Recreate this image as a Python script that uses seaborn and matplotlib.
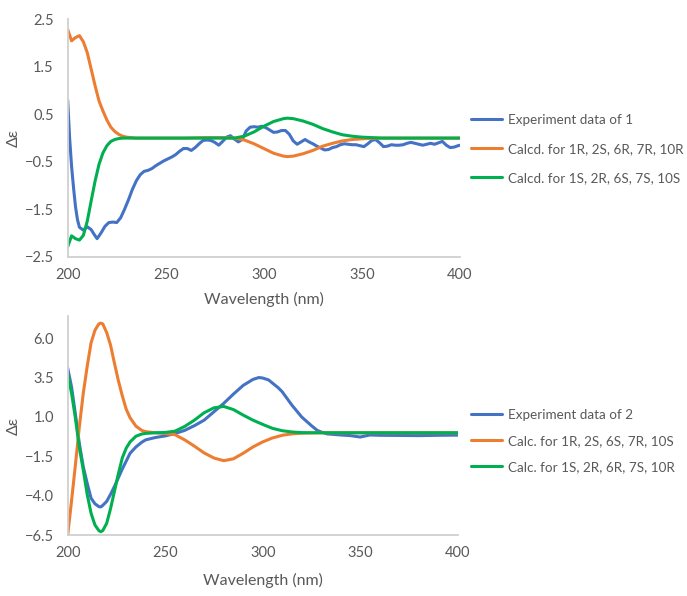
import seaborn as sns
import matplotlib.pyplot as plt
import pandas as pd

# ---- panel 1 data ----
exp1_wl = [200, 201, 202, 203, 204, 205, 206, 208, 210, 212, 213.5, 215, 217, 219, 221, 223, 225, 227,
           229, 231, 233, 235, 237, 239, 241, 243, 245, 247, 249, 251, 253, 255, 257, 259, 261, 263,
           265, 267, 269, 271, 273, 275, 277, 279, 281, 283, 285, 287, 289, 291, 293, 295, 297, 299,
           301, 303, 305, 307, 309, 311, 313, 315, 317, 319, 321, 323, 325, 327, 329, 331, 333, 335,
           337, 339, 341, 343, 345, 347, 349, 351, 353, 355, 357, 359, 361, 363, 365, 367, 369, 371,
           373, 375, 377, 379, 381, 383, 385, 387, 389, 391, 393, 395, 397, 399, 400]
exp1_de = [0.8, 0.0, -0.6, -1.05, -1.45, -1.72, -1.88, -1.94, -1.87, -1.93, -2.03, -2.12, -2.0, -1.86,
           -1.78, -1.77, -1.78, -1.68, -1.5, -1.3, -1.08, -0.9, -0.77, -0.7, -0.68, -0.64, -0.58, -0.53,
           -0.48, -0.44, -0.4, -0.35, -0.28, -0.22, -0.22, -0.26, -0.2, -0.12, -0.05, -0.04, -0.05,
           -0.09, -0.15, -0.07, 0.02, 0.05, -0.02, -0.08, -0.03, 0.15, 0.23, 0.24, 0.23, 0.25, 0.22,
           0.17, 0.12, 0.13, 0.16, 0.16, 0.08, -0.06, -0.13, -0.08, -0.03, -0.08, -0.12, -0.17, -0.21,
           -0.25, -0.24, -0.2, -0.18, -0.14, -0.12, -0.13, -0.14, -0.14, -0.16, -0.18, -0.12, -0.05,
           -0.03, -0.1, -0.18, -0.17, -0.14, -0.15, -0.15, -0.14, -0.11, -0.09, -0.11, -0.13, -0.15,
           -0.13, -0.11, -0.13, -0.1, -0.07, -0.15, -0.2, -0.19, -0.16, -0.15]

calc1_wl = [200, 202, 204, 206, 208, 210, 212, 214, 216, 218, 220, 222, 224, 226, 228, 230, 235, 240,
            250, 260, 270, 280, 285, 290, 295, 300, 305, 310, 312, 315, 320, 325, 330, 335, 340, 345,
            350, 355, 360, 370, 380, 390, 400]
calc1_a = [2.29, 2.05, 2.12, 2.16, 2.03, 1.8, 1.45, 1.1, 0.78, 0.57, 0.38, 0.23, 0.14, 0.08, 0.04, 0.02,
           0.0, 0.0, 0.0, 0.0, 0.01, 0.01, 0.0, -0.04, -0.12, -0.22, -0.32, -0.38, -0.39, -0.38, -0.33,
           -0.26, -0.17, -0.11, -0.06, -0.03, -0.015, -0.005, 0.0, 0.0, 0.0, 0.0, 0.0]
calc1_b = [-2.29, -2.06, -2.12, -2.15, -2.05, -1.75, -1.32, -0.9, -0.55, -0.31, -0.16, -0.07, -0.03,
           -0.01, 0.0, 0.0, 0.0, 0.0, 0.0, 0.0, 0.0, 0.0, 0.0, 0.04, 0.13, 0.25, 0.35, 0.41, 0.42, 0.41,
           0.36, 0.29, 0.2, 0.13, 0.07, 0.04, 0.02, 0.01, 0.0, 0.0, 0.0, 0.0, 0.0]

labels1 = ['Experiment data of 1', 'Calcd. for 1R, 2S, 6R, 7R, 10R', 'Calcd. for 1S, 2R, 6S, 7S, 10S']

# ---- panel 2 data ----
exp2_wl = [200, 202, 204, 206, 208, 210, 212, 214, 216, 217, 218, 220, 222, 224, 226, 228, 230, 232,
           235, 238, 240, 245, 250, 255, 260, 265, 270, 275, 280, 285, 290, 295, 298, 300, 303, 305,
           308, 310, 315, 320, 325, 328, 330, 333, 340, 345, 350, 355, 360, 370, 380, 390, 400]
exp2_de = [4.1, 2.9, 1.15, -0.7, -2.15, -3.2, -4.15, -4.5, -4.68, -4.7, -4.6, -4.35, -3.9, -3.4, -2.85,
           -2.3, -1.8, -1.3, -0.9, -0.6, -0.45, -0.3, -0.2, -0.05, 0.15, 0.45, 0.8, 1.33, 1.86, 2.45,
           3.0, 3.38, 3.5, 3.47, 3.35, 3.15, 2.85, 2.6, 1.75, 1.0, 0.45, 0.15, 0.05, -0.07, -0.14, -0.18,
           -0.27, -0.14, -0.16, -0.17, -0.18, -0.16, -0.15]

calc2_wl = [200, 202, 204, 206, 208, 210, 212, 214, 216, 217, 218, 220, 222, 224, 226, 228, 230, 232,
            235, 238, 240, 245, 250, 255, 260, 265, 270, 275, 280, 285, 290, 295, 300, 305, 310, 315,
            320, 325, 330, 340, 350, 360, 380, 400]
calc2_a = [-6.5, -4.3, -2.0, 0.4, 2.5, 4.2, 5.7, 6.5, 6.9, 6.95, 6.9, 6.35, 5.55, 4.4, 3.3, 2.35, 1.5,
           0.95, 0.42, 0.15, 0.07, 0.0, -0.05, -0.12, -0.45, -0.85, -1.28, -1.6, -1.77, -1.65, -1.3,
           -0.9, -0.58, -0.33, -0.16, -0.07, -0.03, -0.01, 0.0, 0.0, 0.0, 0.0, 0.0, 0.0]
calc2_b = [3.75, 2.5, 0.9, -0.95, -2.36, -3.9, -5.1, -5.85, -6.2, -6.27, -6.2, -5.74, -4.8, -3.7, -2.6,
           -1.6, -0.98, -0.58, -0.22, -0.08, -0.04, 0.0, 0.02, 0.1, 0.4, 0.8, 1.27, 1.58, 1.67, 1.47,
           1.12, 0.8, 0.53, 0.28, 0.13, 0.05, 0.01, 0.0, 0.0, 0.0, 0.0, 0.0, 0.0, 0.0]

labels2 = ['Experiment data of 2', 'Calc. for 1R, 2S, 6S, 7R, 10S', 'Calc. for 1S, 2R, 6R, 7S, 10R']

ticks1 = [-2.5, -1.5, -0.5, 0.5, 1.5, 2.5]
ticks2 = [-6.5, -4.0, -1.5, 1.0, 3.5, 6.0]
xticks = [200, 250, 300, 350, 400]

colors = ['#4472C4', '#ED7D31', '#00B050']
txt = '#595959'
axis_col = '#D0D0D0'

sns.set_theme(style='white')
plt.rcParams['font.family'] = ['Lato', 'DejaVu Sans']


def long_df(wl_e, de_e, wl_c, a, b, labels):
    parts = [pd.DataFrame({'wl': wl_e, 'de': de_e, 'series': labels[0]}),
             pd.DataFrame({'wl': wl_c, 'de': a, 'series': labels[1]}),
             pd.DataFrame({'wl': wl_c, 'de': b, 'series': labels[2]})]
    return pd.concat(parts, ignore_index=True)


df1 = long_df(exp1_wl, exp1_de, calc1_wl, calc1_a, calc1_b, labels1)
df2 = long_df(exp2_wl, exp2_de, calc2_wl, calc2_a, calc2_b, labels2)

fig = plt.figure(figsize=(6.87, 5.96), dpi=100)
ax1 = fig.add_axes([0.0985, 0.5693, 0.5711, 0.398])
ax2 = fig.add_axes([0.0985, 0.1018, 0.5677, 0.368])


def style_axis(ax, df, labels, ylim, yticks, xlab_y, leg_y, spacing):
    sns.lineplot(data=df, x='wl', y='de', hue='series', hue_order=labels,
                 palette=dict(zip(labels, colors)), estimator=None, linewidth=2.2, ax=ax)
    ax.set_xlim(200, 400)
    ax.set_ylim(*ylim)
    ax.set_xticks(xticks)
    ax.set_yticks(yticks)
    ax.set_yticklabels([f'{t:.1f}'.replace('-', '\u2212') for t in yticks])
    ax.tick_params(axis='both', length=0, labelsize=10.5, colors=txt)
    ax.tick_params(axis='y', pad=10)
    ax.tick_params(axis='x', pad=8)
    for s in ['top', 'right']:
        ax.spines[s].set_visible(False)
    for s in ['left', 'bottom']:
        ax.spines[s].set_color(axis_col)
        ax.spines[s].set_linewidth(1.3)
    ax.set_xlabel('Wavelength (nm)', fontsize=11.5, color=txt)
    ax.set_ylabel('\u0394\u03b5', fontsize=11.5, color=txt)
    ax.xaxis.set_label_coords(0.5, xlab_y)
    ax.xaxis.label.set_va('center')
    ax.yaxis.set_label_coords(-0.138, 0.5)
    ax.yaxis.label.set_va('center')
    h, l = ax.get_legend_handles_labels()
    ax.legend(h, l, loc='center left', bbox_to_anchor=(0.6856, leg_y),
              bbox_transform=fig.transFigure, frameon=False, fontsize=9.7,
              labelcolor=txt, handlelength=2.3, handletextpad=0.45,
              labelspacing=spacing, borderpad=0, borderaxespad=0)


style_axis(ax1, df1, labels1, (-2.5, 2.5), ticks1, -0.181, 1 - 149 / 596, 1.25)
style_axis(ax2, df2, labels2, (-6.5, 7.4), ticks2, -0.205, 1 - 440.7 / 596, 1.05)

fig.savefig('out.png', dpi=100)
